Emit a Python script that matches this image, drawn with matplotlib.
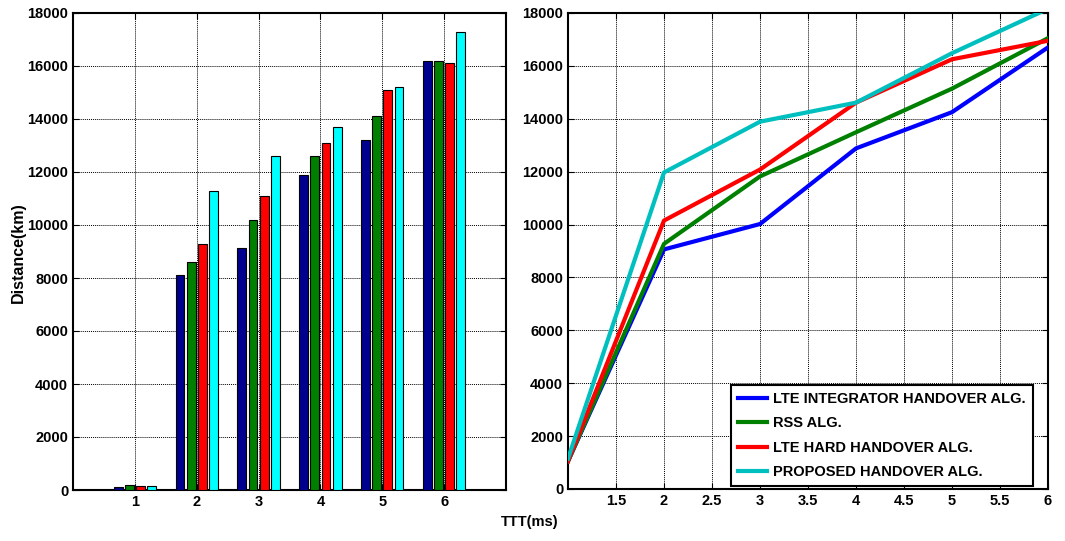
import numpy as np
import matplotlib.pyplot as plt

plt.rcParams['font.family'] = ['Liberation Sans', 'DejaVu Sans']
plt.rcParams['font.weight'] = 'bold'

# left panel: grouped bars per TTT step
groups = [1, 2, 3, 4, 5, 6]
integrator = [110, 8100, 9150, 11900, 13200, 16200]
rss = [190, 8600, 10200, 12600, 14100, 16200]
hard = [150, 9300, 11100, 13100, 15100, 16100]
proposed = [150, 11300, 12600, 13700, 15200, 17300]

# right panel: curves vs TTT
ttt = [1, 2, 3, 4, 5, 6]
line_integrator = [1050, 9060, 10020, 12880, 14250, 16700]
line_rss = [1050, 9270, 11820, 13490, 15140, 17050]
line_hard = [1050, 10150, 12080, 14610, 16250, 16950]
line_proposed = [1150, 11970, 13890, 14610, 16480, 18160]

names = ["LTE INTEGRATOR HANDOVER ALG.", "RSS ALG.",
         "LTE HARD HANDOVER ALG.", "PROPOSED HANDOVER ALG."]

fig = plt.figure(figsize=(10.65, 5.41), dpi=100)
ax1 = fig.add_axes([73/1065, 1-490/541, 433/1065, 477/541])
ax2 = fig.add_axes([568/1065, 1-489/541, 480/1065, 476/541])

x = np.arange(len(groups)) + 1
bar_cols = ['#00008F', '#008000', '#FF0000', '#00FFFF']
offsets = [-0.27, -0.09, 0.09, 0.27]
for vals, col, off in zip([integrator, rss, hard, proposed], bar_cols, offsets):
    ax1.bar(x + off, vals, width=0.145, color=col, edgecolor='black',
            linewidth=0.8, zorder=3)

ax1.set_xlim(0, 7)
ax1.set_ylim(0, 18000)
ax1.set_xticks(x)
ax1.set_yticks(np.arange(0, 18001, 2000))
fig.text(18/1065, 1-253/541, "Distance(km)", rotation=90, ha='center', va='center',
         fontsize=11.5, fontweight='bold')

line_cols = ['#0000FF', '#008000', '#FF0000', '#00BFBF']
for vals, col, name in zip([line_integrator, line_rss, line_hard, line_proposed],
                           line_cols, names):
    ax2.plot(ttt, vals, color=col, linewidth=3, label=name, zorder=3)

ax2.set_xlim(1, 6)
ax2.set_ylim(0, 18000)
ax2.set_xticks([1.5, 2, 2.5, 3, 3.5, 4, 4.5, 5, 5.5, 6])
ax2.set_xticklabels(['1.5', '2', '2.5', '3', '3.5', '4', '4.5', '5', '5.5', '6'])
ax2.set_yticks(np.arange(0, 18001, 2000))

for ax in (ax1, ax2):
    ax.grid(True, color='black', linestyle=(0, (1, 1)), linewidth=0.7, zorder=0)
    ax.tick_params(direction='in', top=True, right=True, labelsize=10.5, length=4)
    for lab in ax.get_xticklabels() + ax.get_yticklabels():
        lab.set_fontweight('bold')
    for sp in ax.spines.values():
        sp.set_linewidth(1.5)
    ax.set_axisbelow(True)

leg = ax2.legend(loc='lower right', bbox_to_anchor=(0.969, 0.006), fontsize=10.5,
                 frameon=True, fancybox=False, edgecolor='black', framealpha=1,
                 borderaxespad=0, handlelength=2.0, labelspacing=0.7,
                 borderpad=0.5, handletextpad=0.4)
leg.get_frame().set_linewidth(1.5)
for t in leg.get_texts():
    t.set_fontweight('bold')

fig.text(530/1065, 1-522/541, "TTT(ms)", ha='center', va='center',
         fontsize=10.5, fontweight='bold')

fig.savefig('out.png', dpi=100)
